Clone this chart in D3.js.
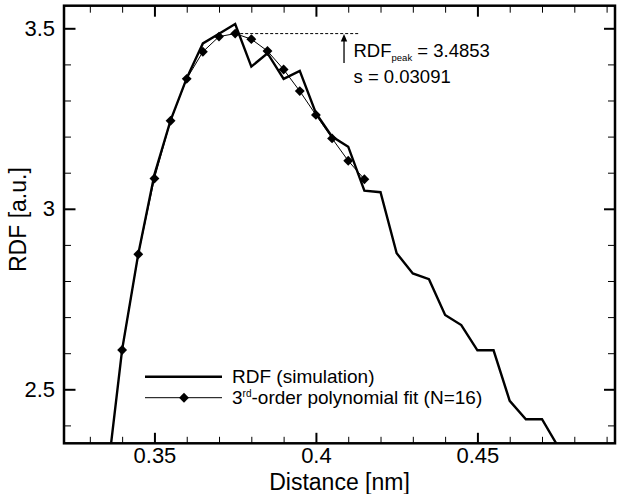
<!DOCTYPE html>
<html>
<head>
<meta charset="utf-8">
<script src="https://cdn.jsdelivr.net/npm/d3@7"></script>
<style>
  body { margin: 0; background: #fff; }
  svg { font-family: "Liberation Sans", Arial, sans-serif; }
  .axis path { display: none; }
  .axis text { font-size: 22px; fill: #000; }
</style>
</head>
<body>
<div id="chart"></div>
<script>
// RDF from the simulation (thick line)
var simDistance = [0.335, 0.34, 0.345, 0.35, 0.355, 0.36, 0.365, 0.37, 0.375, 0.38,
                   0.385, 0.39, 0.395, 0.40, 0.405, 0.41, 0.415, 0.42, 0.425, 0.43,
                   0.435, 0.44, 0.445, 0.45, 0.455, 0.46, 0.465, 0.47, 0.475]
var simRdf = [2.23, 2.61, 2.875, 3.095, 3.245, 3.362, 3.458, 3.485, 3.512, 3.394,
              3.431, 3.360, 3.382, 3.265, 3.200, 3.172, 3.050, 3.046, 2.877, 2.821,
              2.805, 2.706, 2.678, 2.608, 2.608, 2.468, 2.417, 2.417, 2.341]

// 3rd-order polynomial fit, N=16 points (thin line with diamonds)
var fitDistance = [0.34, 0.345, 0.35, 0.355, 0.36, 0.365, 0.37, 0.375,
                   0.38, 0.385, 0.39, 0.395, 0.40, 0.405, 0.41, 0.415]
var fitRdf = [2.609, 2.874, 3.084, 3.244, 3.360, 3.435, 3.477, 3.4853,
              3.470, 3.437, 3.386, 3.326, 3.260, 3.195, 3.133, 3.082]

var xMajor = [0.35, 0.40, 0.45]
var xMajorLabels = ['0.35', '0.4', '0.45']
var xMinor = [0.33, 0.34, 0.36, 0.37, 0.38, 0.39, 0.41, 0.42, 0.43, 0.44, 0.46, 0.47, 0.48, 0.49]
var yMajor = [2.5, 3.0, 3.5]
var yMajorLabels = ['2.5', '3', '3.5']
var yMinor = [2.4, 2.6, 2.7, 2.8, 2.9, 3.1, 3.2, 3.3, 3.4]

var peakDistance = 0.375
var peakValue = 3.4853
var sValue = 0.03091

var width = 622, height = 494
var plot = { left: 64, right: 615, top: 5.7, bottom: 443.3 }

var x = d3.scaleLinear().domain([0.322, 0.4926]).range([plot.left, plot.right])
var y = d3.scaleLinear().domain([2.3504, 3.5626]).range([plot.bottom, plot.top])

var svg = d3.select('#chart').append('svg')
    .attr('width', width)
    .attr('height', height)

svg.append('defs').append('clipPath')
    .attr('id', 'clip')
  .append('rect')
    .attr('x', plot.left).attr('y', plot.top)
    .attr('width', plot.right - plot.left)
    .attr('height', plot.bottom - plot.top)

// minor ticks (no labels) on all four sides
function minorAxis (axis, pos, vals, size) {
  svg.append('g').attr('class', 'axis')
      .attr('transform', pos)
      .call(axis.tickValues(vals).tickSize(size).tickFormat(''))
      .selectAll('line').attr('stroke', '#000').attr('stroke-width', 1)
}
minorAxis(d3.axisBottom(x), 'translate(0,' + plot.bottom + ')', xMinor, -6.5)
minorAxis(d3.axisTop(x), 'translate(0,' + plot.top + ')', xMinor, -7)
minorAxis(d3.axisLeft(y), 'translate(' + plot.left + ',0)', yMinor, -7)
minorAxis(d3.axisRight(y), 'translate(' + plot.right + ',0)', yMinor, -7)

// major ticks
var xAxis = svg.append('g').attr('class', 'axis')
    .attr('transform', 'translate(0,' + plot.bottom + ')')
    .call(d3.axisBottom(x).tickValues(xMajor).tickSize(-10.5).tickPadding(4.5)
      .tickFormat(function (d, i) { return xMajorLabels[i] }))
xAxis.selectAll('line').attr('stroke', '#000').attr('stroke-width', 2)
xAxis.selectAll('text').attr('dy', '0.71em')

svg.append('g').attr('class', 'axis')
    .attr('transform', 'translate(0,' + plot.top + ')')
    .call(d3.axisTop(x).tickValues(xMajor).tickSize(-11).tickFormat(''))
    .selectAll('line').attr('stroke', '#000').attr('stroke-width', 2)

var yAxis = svg.append('g').attr('class', 'axis')
    .attr('transform', 'translate(' + plot.left + ',0)')
    .call(d3.axisLeft(y).tickValues(yMajor).tickSize(-11.5).tickPadding(9)
      .tickFormat(function (d, i) { return yMajorLabels[i] }))
yAxis.selectAll('line').attr('stroke', '#000').attr('stroke-width', 2)

svg.append('g').attr('class', 'axis')
    .attr('transform', 'translate(' + plot.right + ',0)')
    .call(d3.axisRight(y).tickValues(yMajor).tickSize(-11).tickFormat(''))
    .selectAll('line').attr('stroke', '#000').attr('stroke-width', 2)

// frame
svg.append('rect')
    .attr('x', plot.left).attr('y', plot.top)
    .attr('width', plot.right - plot.left)
    .attr('height', plot.bottom - plot.top)
    .attr('fill', 'none')
    .attr('stroke', '#000')
    .attr('stroke-width', 2.5)

// axis titles
svg.append('text')
    .attr('x', (plot.left + plot.right) / 2)
    .attr('y', 489.5)
    .attr('text-anchor', 'middle')
    .style('font-size', '23px')
    .text('Distance [nm]')

svg.append('text')
    .attr('transform', 'translate(26,' + y(2.97) + ') rotate(-90)')
    .attr('text-anchor', 'middle')
    .style('font-size', '23px')
    .text('RDF [a.u.]')

var line = d3.line()
    .x(function (d) { return x(d[0]) })
    .y(function (d) { return y(d[1]) })

var simData = d3.zip(simDistance, simRdf)
var fitData = d3.zip(fitDistance, fitRdf)

var g = svg.append('g').attr('clip-path', 'url(#clip)')

g.append('path')
    .datum(fitData)
    .attr('d', line)
    .attr('fill', 'none')
    .attr('stroke', '#000')
    .attr('stroke-width', 1)

g.append('path')
    .datum(simData)
    .attr('d', line)
    .attr('fill', 'none')
    .attr('stroke', '#000')
    .attr('stroke-width', 2.4)
    .attr('stroke-linejoin', 'miter')

var diamond = d3.symbol().type(d3.symbolDiamond2).size(62)

g.selectAll('.marker')
    .data(fitData)
    .enter().append('path')
    .attr('class', 'marker')
    .attr('transform', function (d) { return 'translate(' + x(d[0]) + ',' + y(d[1]) + ')' })
    .attr('d', diamond)
    .attr('fill', '#000')

// peak annotation
svg.append('line')
    .attr('x1', x(peakDistance)).attr('x2', x(0.4134))
    .attr('y1', y(peakValue)).attr('y2', y(peakValue))
    .attr('stroke', '#000')
    .attr('stroke-width', 1)
    .attr('stroke-dasharray', '3,2')

var arrowX = x(0.4087)
svg.append('line')
    .attr('x1', arrowX).attr('x2', arrowX)
    .attr('y1', y(3.404)).attr('y2', y(peakValue) + 6)
    .attr('stroke', '#000')
    .attr('stroke-width', 1.3)
svg.append('path')
    .attr('d', 'M' + arrowX + ',' + (y(peakValue) + 0.5) +
               'L' + (arrowX - 3.2) + ',' + (y(peakValue) + 8) +
               'L' + (arrowX + 3.2) + ',' + (y(peakValue) + 8) + 'Z')
    .attr('fill', '#000')

var ann = svg.append('text')
    .attr('x', 353.5)
    .attr('y', 56.5)
    .style('font-size', '18.5px')
ann.append('tspan').text('RDF')
ann.append('tspan').attr('dy', 4.5).style('font-size', '9.5px').text('peak')
ann.append('tspan').attr('dy', -4.5).text(' = ' + peakValue.toFixed(4))

svg.append('text')
    .attr('x', 353.5)
    .attr('y', 83)
    .style('font-size', '18.5px')
    .text('s = ' + sValue)

// legend
var legend = svg.append('g').attr('transform', 'translate(145,0)')
legend.append('line')
    .attr('x1', 0).attr('x2', 77)
    .attr('y1', 376.7).attr('y2', 376.7)
    .attr('stroke', '#000').attr('stroke-width', 2.4)
legend.append('line')
    .attr('x1', 0).attr('x2', 77)
    .attr('y1', 397.7).attr('y2', 397.7)
    .attr('stroke', '#000').attr('stroke-width', 1)
legend.append('path')
    .attr('transform', 'translate(39,397.7)')
    .attr('d', diamond)
    .attr('fill', '#000')

legend.append('text')
    .attr('x', 87).attr('y', 383)
    .style('font-size', '19px')
    .text('RDF (simulation)')

var lt = legend.append('text')
    .attr('x', 87).attr('y', 404)
    .style('font-size', '19px')
lt.append('tspan').text('3')
lt.append('tspan').attr('dy', -7).style('font-size', '10px').text('rd')
lt.append('tspan').attr('dy', 7).text('-order polynomial fit (N=16)')
</script>
</body>
</html>
